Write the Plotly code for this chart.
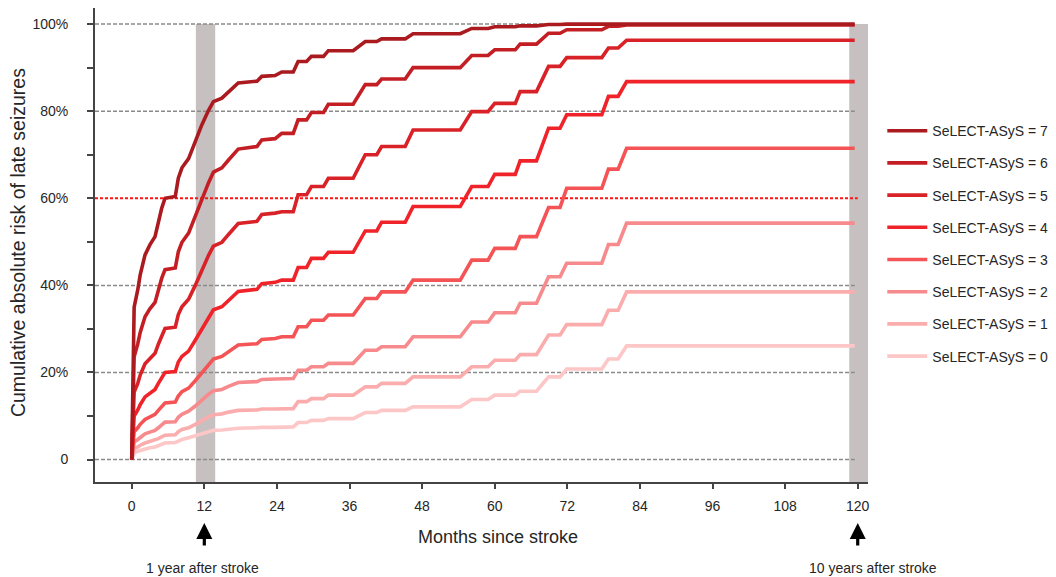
import plotly.graph_objects as go

# ---------------- data ----------------
months = [0, 0.4, 1.0, 1.4, 2.2, 3.0, 3.85, 4.4, 4.95, 5.5, 7.2, 7.7, 8.3, 9.4, 10.5, 11.6,
          12.7, 13.5, 14.9, 16.0, 17.6, 20.7, 21.5, 23.7, 24.8,
          26.7, 27.5, 28.9, 29.7, 31.7, 32.5, 36.6, 38.6, 40.5, 41.3, 45.2, 46.5, 54.3, 56.2,
          58.9, 60.0, 63.4, 64.2, 66.9, 68.9, 70.8, 71.9, 77.7, 78.8, 80.4, 81.8, 119.5]

risk_score_7 = [0, 35.0, 39.0, 42.4, 47.0, 49.3, 51.2, 54.5, 57.7, 60.0, 60.4, 64.6, 67.0, 69.1, 73.0, 76.9,
                80.2, 82.2, 83.0, 84.5, 86.5, 86.9, 88.0, 88.2, 89.0,
                89.0, 91.4, 91.4, 92.6, 92.6, 93.9, 93.9, 96.0, 96.0, 96.6, 96.6, 97.8, 97.8, 99.0,
                99.0, 99.4, 99.4, 99.6, 99.6, 99.9, 99.9, 100, 100, 100, 100, 100, 100]
risk_score_6 = [0, 23.6, 26.6, 29.2, 32.8, 34.6, 36.1, 38.9, 41.6, 43.6, 44.0, 47.7, 49.9, 52.0, 55.9, 60.0,
                63.6, 66.0, 67.0, 68.8, 71.3, 71.9, 73.4, 73.7, 74.9,
                74.9, 78.0, 78.0, 79.7, 79.7, 81.6, 81.6, 86.1, 86.1, 87.4, 87.4, 90.0, 90.0, 92.8,
                92.8, 94.1, 94.1, 95.4, 95.4, 97.9, 97.9, 98.7, 98.7, 99.5, 99.5, 99.8, 99.8]
risk_score_5 = [0, 15.5, 17.5, 19.4, 22.0, 23.3, 24.4, 26.5, 28.6, 30.1, 30.4, 33.3, 35.1, 36.8, 40.0, 43.6,
                46.9, 49.0, 49.9, 51.7, 54.2, 54.7, 56.3, 56.6, 56.9,
                56.9, 60.8, 60.8, 62.7, 62.7, 64.6, 64.6, 70.0, 70.0, 71.9, 71.9, 75.7, 75.7, 79.9,
                79.9, 81.8, 81.8, 84.5, 84.5, 90.3, 90.3, 92.3, 92.3, 94.5, 94.5, 96.3, 96.3]
risk_score_4 = [0, 10.0, 11.4, 12.6, 14.4, 15.3, 16.1, 17.5, 18.9, 20.0, 20.2, 22.4, 23.7, 24.9, 27.4, 30.1,
                32.6, 34.4, 35.1, 36.6, 38.6, 39.1, 40.4, 40.7, 41.2,
                41.2, 44.1, 44.1, 46.2, 46.2, 47.6, 47.6, 52.5, 52.5, 54.5, 54.5, 58.1, 58.1, 62.7,
                62.7, 65.5, 65.5, 68.6, 68.6, 76.1, 76.1, 79.2, 79.2, 83.4, 83.4, 86.8, 86.8]
risk_score_3 = [0, 6.4, 7.3, 8.1, 9.2, 9.8, 10.4, 11.3, 12.3, 13.0, 13.2, 14.6, 15.6, 16.4, 18.1, 20.0,
                21.9, 23.1, 23.7, 24.8, 26.3, 26.6, 27.6, 27.8, 28.2,
                28.2, 30.5, 30.5, 32.0, 32.0, 33.2, 33.2, 37.0, 37.0, 38.5, 38.5, 41.2, 41.2, 45.8,
                45.8, 48.5, 48.5, 51.2, 51.2, 57.9, 57.9, 62.3, 62.3, 66.7, 66.7, 71.5, 71.5]
risk_score_2 = [0, 4.0, 4.6, 5.1, 5.9, 6.3, 6.7, 7.3, 8.0, 8.6, 8.7, 9.7, 10.4, 11.1, 12.3, 13.7,
                15.0, 15.8, 16.1, 16.8, 17.7, 17.9, 18.4, 18.5, 18.6,
                18.6, 20.5, 20.5, 21.3, 21.3, 22.1, 22.1, 25.1, 25.1, 25.9, 25.9, 28.2, 28.2, 31.6,
                31.6, 33.7, 33.7, 35.9, 35.9, 42.0, 42.0, 45.1, 45.1, 49.4, 49.4, 54.3, 54.3]
risk_score_1 = [0, 2.5, 2.9, 3.3, 3.8, 4.1, 4.4, 4.8, 5.2, 5.6, 5.7, 6.4, 6.9, 7.3, 8.1, 9.0,
                9.8, 10.3, 10.5, 10.9, 11.3, 11.4, 11.6, 11.6, 11.7,
                11.7, 13.3, 13.3, 14.0, 14.0, 14.8, 14.8, 16.7, 16.7, 17.5, 17.5, 19.0, 19.0, 21.3,
                21.3, 22.8, 22.8, 24.1, 24.1, 28.6, 28.6, 31.0, 31.0, 34.3, 34.3, 38.5, 38.5]
risk_score_0 = [0, 1.6, 1.9, 2.1, 2.5, 2.7, 2.9, 3.2, 3.5, 3.8, 3.9, 4.3, 4.6, 5.0, 5.5, 6.0,
                6.4, 6.7, 6.8, 7.0, 7.2, 7.3, 7.4, 7.4, 7.5,
                7.5, 8.5, 8.5, 9.0, 9.0, 9.4, 9.4, 10.8, 10.8, 11.3, 11.3, 12.1, 12.1, 13.8,
                13.8, 14.8, 14.8, 15.7, 15.7, 19.0, 19.0, 20.8, 20.8, 23.1, 23.1, 26.1, 26.1]

scores = [0, 1, 2, 3, 4, 5, 6, 7]
series_values = [risk_score_0, risk_score_1, risk_score_2, risk_score_3,
                 risk_score_4, risk_score_5, risk_score_6, risk_score_7]
series_colors = ["#fdc7c8", "#fbadae", "#f78a8c", "#f45455",
                 "#ef2329", "#d92228", "#c41e25", "#aa1a1f"]

x_tick_values = [0, 12, 24, 36, 48, 60, 72, 84, 96, 108, 120]
y_tick_values = [0, 10, 20, 30, 40, 50, 60, 70, 80, 90, 100]
y_tick_labels = ["0", "", "20%", "", "40%", "", "60%", "", "80%", "", "100%"]

grid_levels = [0, 20, 40, 80, 100]
highlight_level = 60
grid_end_month = 119.5
band_ranges = [(10.6, 13.8), (118.6, 121.7)]
band_top = 100

arrow_months = [12, 120]
arrow_labels = ["1 year after stroke", "10 years after stroke"]
arrow_label_shift = [-2, 15]

x_range = [-6.07, 121.7]
y_range = [-5.15, 103.7]

FONT = "Liberation Sans, Arial, sans-serif"
TXT = "#262626"

# ---------------- figure ----------------
fig = go.Figure()
for s, vals, col in zip(scores, series_values, series_colors):
    fig.add_trace(go.Scatter(
        x=months, y=vals, mode="lines", name=f"SeLECT-ASyS = {s}",
        legendgroup=f"g{s}", legendrank=100 + (7 - s),
        line=dict(color=col, width=3.6), hoverinfo="skip"))

shapes = []
for (b0, b1) in band_ranges:
    shapes.append(dict(type="rect", xref="x", yref="y", x0=b0, x1=b1,
                       y0=y_range[0], y1=band_top, fillcolor="#c6c0c0",
                       line=dict(width=0), layer="below"))
for lv in grid_levels:
    shapes.append(dict(type="line", xref="x", yref="y", x0=x_range[0], x1=grid_end_month,
                       y0=lv, y1=lv, line=dict(color="#8a8a8a", width=1.5, dash="4px,2px"),
                       layer="below"))
shapes.append(dict(type="line", xref="x", yref="y", x0=x_range[0], x1=grid_end_month + 0.5,
                   y0=highlight_level, y1=highlight_level,
                   line=dict(color="#ff1414", width=2, dash="3px,2px"), layer="below"))

annotations = []
for m, lab, sh in zip(arrow_months, arrow_labels, arrow_label_shift):
    annotations.append(dict(x=m, xref="x", y=-0.0866, yref="paper", text="",
                            showarrow=True, ax=0, ay=24, arrowhead=2, arrowsize=1,
                            arrowwidth=3.2, arrowcolor="#000000"))
    annotations.append(dict(x=m, xref="x", xshift=sh, y=-0.1822, yref="paper", text=lab,
                            showarrow=False, font=dict(family=FONT, size=14, color=TXT),
                            xanchor="center", yanchor="middle"))
annotations.append(dict(x=0.5213, xref="paper", y=-0.1167, yref="paper",
                        text="Months since stroke", showarrow=False,
                        font=dict(family=FONT, size=18, color=TXT),
                        xanchor="center", yanchor="middle"))
annotations.append(dict(x=-0.1003, xref="paper", y=0.505, yref="paper",
                        text="Cumulative absolute risk of late seizures", showarrow=False,
                        textangle=-90, font=dict(family=FONT, size=19.5, color=TXT),
                        xanchor="center", yanchor="middle"))

# the page body adds an 8px offset, so the figure is 8px smaller and margins shifted
fig.update_layout(
    width=1048, height=569,
    margin=dict(l=87, r=188, t=0, b=95, pad=0),
    paper_bgcolor="white", plot_bgcolor="white",
    font=dict(family=FONT, size=14, color=TXT),
    shapes=shapes, annotations=annotations,
    showlegend=True,
    legend=dict(x=1.0185, y=0.774, xanchor="left", yanchor="top",
                traceorder="grouped", tracegroupgap=11,
                font=dict(family=FONT, size=14, color=TXT),
                bgcolor="rgba(0,0,0,0)", borderwidth=0, itemwidth=40),
)
fig.update_xaxes(range=x_range, tickvals=x_tick_values, ticks="outside", ticklen=5,
                 tickwidth=1.5, tickcolor="#444", showline=True, linewidth=2,
                 linecolor="#444", showgrid=False, zeroline=False,
                 tickfont=dict(family=FONT, size=14, color=TXT), ticklabelstandoff=5)
fig.update_yaxes(range=y_range, tickvals=y_tick_values, ticktext=y_tick_labels,
                 ticks="outside", ticklen=6, tickwidth=1.5, tickcolor="#444",
                 showline=True, linewidth=2, linecolor="#444", showgrid=False,
                 zeroline=False, tickfont=dict(family=FONT, size=14, color=TXT),
                 ticklabelstandoff=16)

fig.write_html("out.html")
